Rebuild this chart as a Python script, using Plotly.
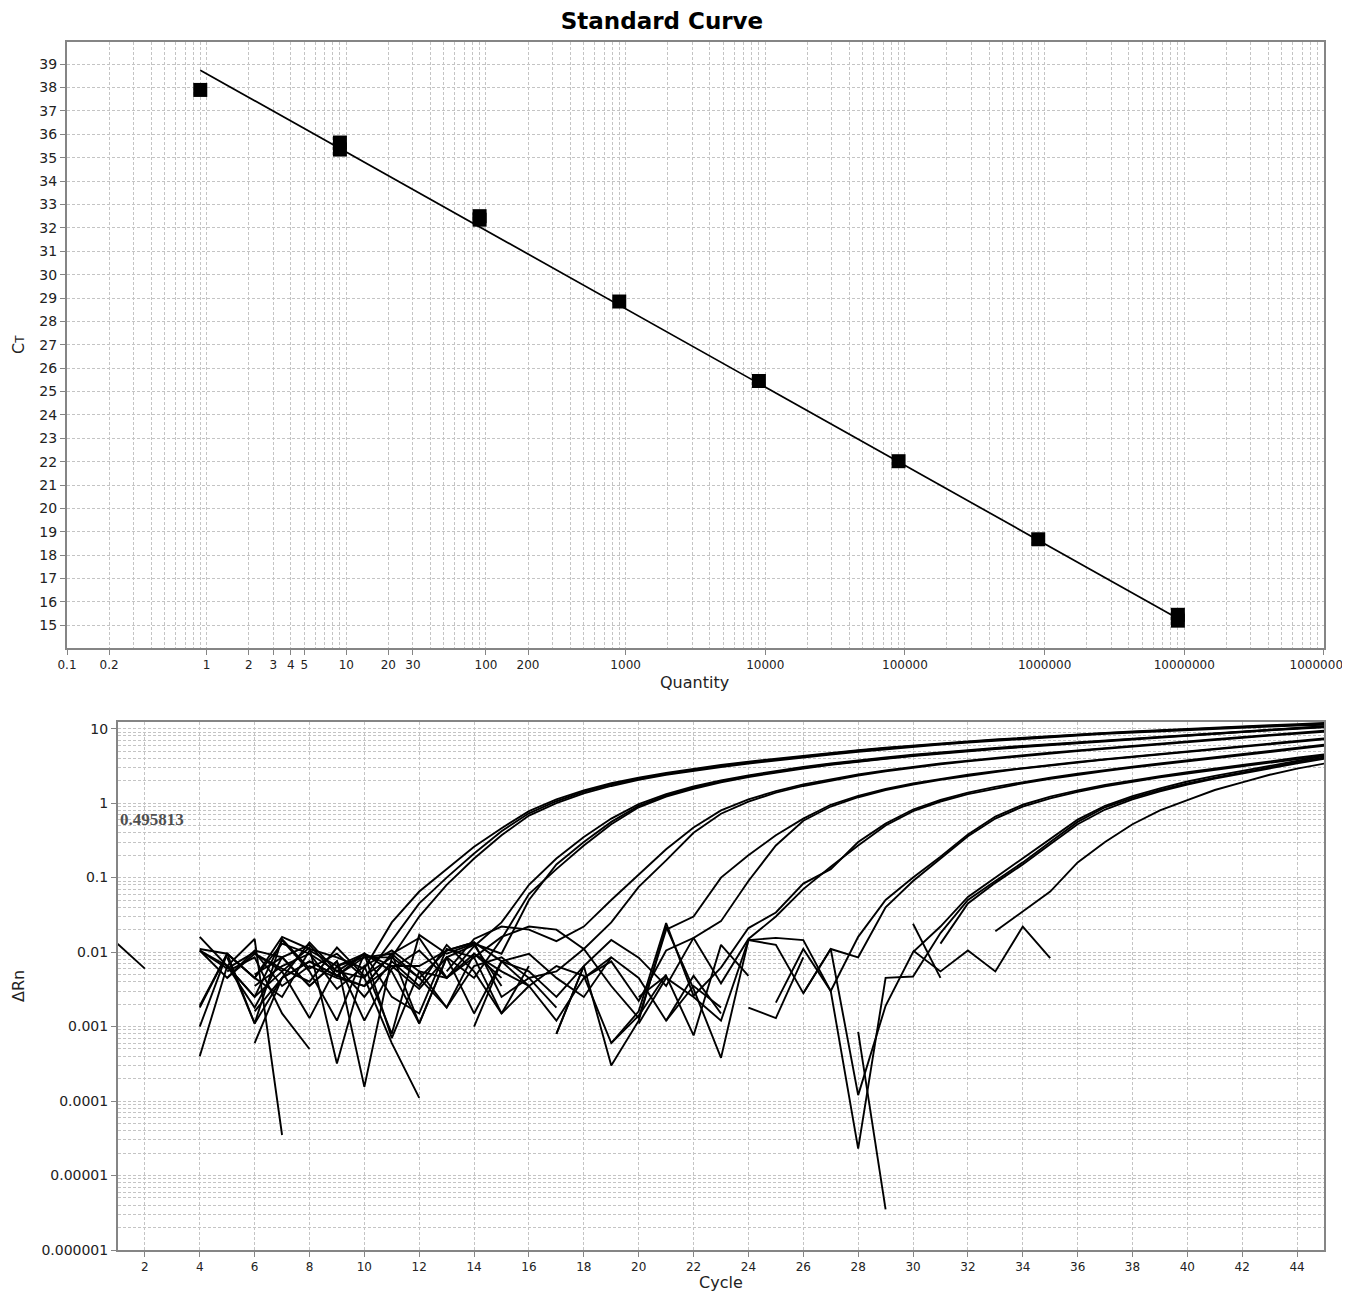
import math
import plotly.graph_objects as go

W, H = 1350, 1292
OFF = 8  # page body margin


def px(x):
    return (x - OFF) / W


def py(y):
    return 1 - (y - OFF) / H


# ---------------- Standard curve data ----------------
QUANTITY = [0.9, 9, 9, 90, 90, 900, 9000, 90000, 900000, 9000000, 9000000]
CT_VALUES = [37.9, 35.65, 35.35, 32.5, 32.35, 28.85, 25.45, 22.02, 18.68, 15.45, 15.2]
FIT_SLOPE = -3.35
FIT_INTERCEPT = 38.59

QTY_TICKS = [0.1, 0.2, 1, 2, 3, 4, 5, 10, 20, 30, 100, 200, 1000, 10000,
             100000, 1000000, 10000000, 100000000]
QTY_TICK_TEXT = ["0.1", "0.2", "1", "2", "3", "4", "5", "10", "20", "30", "100", "200",
                 "1000", "10000", "100000", "1000000", "10000000", "100000000"]

# ---------------- Amplification plot data ----------------
CYCLES = list(range(1, 46))
THRESHOLD = 0.495813
N = None

A1 = [N, N, N, 0.011, 0.0095, 0.0045, 0.016, 0.011, 0.0085,
      0.006, 0.025, 0.065, 0.13, 0.26, 0.46, 0.78, 1.12, 1.48,
      1.85, 2.2, 2.55, 2.9, 3.25, 3.6, 3.95, 4.35, 4.75,
      5.15, 5.55, 5.95, 6.35, 6.75, 7.15, 7.55, 7.95, 8.35,
      8.75, 9.15, 9.55, 9.95, 10.35, 10.75, 11.1, 11.5, 11.9]
A2 = [N, N, N, 0.0018, 0.0095, 0.0011, 0.015, 0.006, 0.0095,
      0.0045, 0.014, 0.045, 0.1, 0.21, 0.42, 0.73, 1.06, 1.42,
      1.78, 2.12, 2.46, 2.8, 3.15, 3.5, 3.85, 4.25, 4.65,
      5.05, 5.45, 5.85, 6.25, 6.65, 7.05, 7.45, 7.85, 8.25,
      8.65, 9.05, 9.45, 9.85, 10.2, 10.55, 10.9, 11.2, 11.6]
A3 = [N, N, N, 0.0004, 0.0065, 0.015, 3.5e-5, N, 0.0065,
      0.0085, 0.0085, 0.03, 0.08, 0.18, 0.37, 0.68, 1.0, 1.35,
      1.7, 2.05, 2.4, 2.72, 3.05, 3.4, 3.75, 4.1, 4.5,
      4.9, 5.3, 5.7, 6.1, 6.5, 6.9, 7.3, 7.7, 8.1,
      8.5, 8.85, 9.2, 9.6, 9.95, 10.3, 10.65, 11.0, 11.3]
B1 = [N, N, N, 0.016, 0.0065, 0.0025, 0.0055, 0.0013, 0.0065,
      0.0095, 0.0007, 0.0055, 0.0045, 0.012, 0.025, 0.08, 0.18, 0.35,
      0.62, 0.97, 1.32, 1.68, 2.02, 2.36, 2.7, 3.05, 3.4,
      3.75, 4.1, 4.45, 4.8, 5.15, 5.5, 5.85, 6.2, 6.6,
      7.0, 7.4, 7.8, 8.2, 8.7, 9.2, 9.7, 10.2, 10.8]
B2 = [N, N, N, 0.001, 0.0095, 0.0045, 0.013, 0.0095, 0.0032,
      0.0065, 0.0008, 0.017, 0.0095, 0.013, 0.0095, 0.05, 0.15, 0.3,
      0.56, 0.92, 1.27, 1.62, 1.96, 2.3, 2.64, 2.98, 3.32,
      3.66, 4.0, 4.35, 4.7, 5.05, 5.4, 5.75, 6.1, 6.5,
      6.9, 7.3, 7.7, 8.1, 8.6, 9.1, 9.6, 10.1, 10.6]
B3 = [N, N, N, N, N, 0.0006, 0.0045, 0.0075, 0.0048,
      0.0035, 0.0095, 0.0011, 0.0085, 0.0045, 0.015, 0.06, 0.13, 0.27,
      0.52, 0.88, 1.22, 1.56, 1.9, 2.24, 2.58, 2.92, 3.26,
      3.6, 3.94, 4.28, 4.62, 4.96, 5.3, 5.65, 6.0, 6.4,
      6.8, 7.2, 7.6, 8.0, 8.5, 9.0, 9.5, 10.0, 10.4]
C1 = [N, N, N, 0.0105, 0.0045, 0.0095, 0.006, 0.004, 0.0115,
      0.0048, 0.0085, N, 0.0055, 0.015, 0.022, 0.02, 0.014, 0.022,
      0.05, 0.11, 0.24, 0.47, 0.8, 1.12, 1.45, 1.78, 2.1,
      2.42, 2.75, 3.08, 3.4, 3.72, 4.05, 4.4, 4.75, 5.1,
      5.5, 5.9, 6.3, 6.75, 7.2, 7.7, 8.2, 8.8, 9.4]
C2 = [N, N, N, N, N, 0.0016, 0.0045, 0.0075, 0.0048,
      0.0095, 0.0025, 0.0015, 0.011, 0.0085, 0.016, 0.022, 0.02, 0.011,
      0.025, 0.075, 0.17, 0.4, 0.72, 1.05, 1.38, 1.7, 2.02,
      2.35, 2.68, 3.0, 3.32, 3.64, 3.96, 4.3, 4.65, 5.0,
      5.38, 5.78, 6.2, 6.62, 7.08, 7.55, 8.05, 8.55, 9.1]
D1 = [N, N, N, 0.0105, 0.006, 0.01, 0.0035, 0.0065, 0.0045,
      0.0035, 0.0095, 0.0045, 0.0018, 0.0065, 0.0085, 0.0045, 0.0055, 0.011,
      0.0035, 0.0013, 0.02, 0.03, 0.1, 0.2, 0.37, 0.62, 0.95,
      1.25, 1.55, 1.84, 2.12, 2.4, 2.68, 2.97, 3.27, 3.57,
      3.88, 4.2, 4.55, 4.92, 5.32, 5.75, 6.25, 6.8, 7.4]
D2 = [N, N, N, N, 0.0065, 0.0025, 0.0145, 0.0055, 0.0012,
      0.0095, 0.0065, 0.0032, 0.0085, 0.0125, 0.0035, N, 0.0008, 0.0065,
      0.0145, 0.0084, 0.0035, 0.0155, 0.026, 0.09, 0.27, 0.58, 0.9,
      1.2, 1.5, 1.78, 2.06, 2.34, 2.62, 2.92, 3.22, 3.52,
      3.84, 4.16, 4.5, 4.86, 5.25, 5.68, 6.15, 6.65, 7.2]
E1 = [N, N, N, N, 0.0085, 0.0011, 0.0045, 0.0135, 0.0055,
      0.0095, 0.0055, 0.0011, 0.0085, 0.0015, 0.0075, 0.0035, 0.0065, 0.0048,
      0.0006, 0.0016, 0.0245, 0.0026, 0.0062, 0.021, 0.034, 0.083, 0.13,
      0.3, 0.53, 0.82, 1.1, 1.38, 1.65, 1.92, 2.2, 2.48,
      2.78, 3.08, 3.4, 3.75, 4.12, 4.52, 4.98, 5.48, 6.1]
E2 = [N, N, N, N, N, 0.005, 0.0085, 0.0035, 0.0075,
      0.0012, 0.006, 0.0105, 0.0045, 0.0095, 0.0055, 0.0035, 0.0012, 0.0045,
      0.0075, 0.0022, 0.0105, 0.0155, 0.0038, 0.015, 0.03, 0.07, 0.14,
      0.27, 0.5, 0.78, 1.05, 1.32, 1.58, 1.85, 2.12, 2.4,
      2.7, 3.0, 3.32, 3.66, 4.02, 4.42, 4.86, 5.34, 5.9]
F1 = [N, N, N, 0.0019, 0.0095, 0.0045, 0.0025, 0.0105, 0.0065,
      0.0025, 0.0075, 0.0035, 0.0125, 0.0055, 0.0015, 0.0035, N, 0.0045,
      0.0085, N, 0.0012, 0.0048, 0.0015, N, 0.0021, 0.011, 0.003,
      0.016, 0.05, 0.1, 0.19, 0.38, 0.66, 0.95, 1.22, 1.48,
      1.75, 2.02, 2.3, 2.6, 2.92, 3.26, 3.64, 4.06, 4.5]
F2 = [N, N, N, N, 0.0055, 0.0085, 0.0015, 0.0005, N,
      0.0035, 0.0065, 0.0065, 0.0105, 0.0135, 0.0025, 0.0045, 0.0018, N,
      N, 0.0011, 0.0045, 0.0025, 0.0012, 0.0145, 0.0125, 0.0028, 0.011,
      0.0085, 0.04, 0.09, 0.18, 0.36, 0.62, 0.9, 1.16, 1.42,
      1.68, 1.95, 2.22, 2.5, 2.8, 3.12, 3.48, 3.88, 4.35]
G1 = [N, N, N, N, N, 0.0095, 0.0055, 0.0115, 0.00032,
      0.0065, 0.0105, 0.0055, 0.0018, 0.0095, 0.0045, N, 0.0008, 0.0065,
      0.0003, 0.0012, 0.022, 0.0032, 0.00038, 0.0145, 0.0155, 0.0145, 0.003,
      2.3e-5, 0.0045, 0.0047, 0.018, 0.05, 0.09, 0.16, 0.3, 0.56,
      0.88, 1.18, 1.5, 1.84, 2.2, 2.6, 3.05, 3.55, 4.1]
G2 = [N, N, N, N, 0.0045, 0.0105, 0.0085, 0.0035, 0.0075,
      0.000155, 0.0085, 0.0045, 0.0105, 0.0135, 0.0075, 0.0055, 0.0025, 0.0065,
      N, 0.0025, 0.0048, 0.00076, 0.0125, 0.0048, N, 0.0028, 0.011,
      0.00012, 0.0019, 0.01, 0.022, 0.055, 0.1, 0.18, 0.33, 0.6,
      0.92, 1.24, 1.58, 1.95, 2.32, 2.72, 3.18, 3.68, 4.3]
G3 = [N, N, N, N, N, 0.0035, 0.0065, 0.0095, 0.0055,
      0.0045, 0.0006, 0.00011, N, 0.001, 0.0075, 0.0095, 0.0045, 0.0025,
      0.0085, 0.0045, 0.0012, 0.0035, 0.0018, N, N, N, N,
      0.00085, 3.5e-6, N, 0.013, 0.045, 0.085, 0.15, 0.28, 0.52,
      0.82, 1.12, 1.44, 1.78, 2.14, 2.52, 2.95, 3.42, 3.95]
H1 = [N, N, N, 0.0105, 0.0065, 0.0018, 0.0085, 0.0125, 0.0048,
      0.0085, 0.0095, 0.0155, 0.0045, 0.0085, 0.0015, 0.0065, N, N,
      0.0006, 0.0014, 0.005, N, N, 0.0018, 0.0013, 0.0085, N,
      N, N, N, N, N, 0.019, 0.035, 0.065, 0.16,
      0.3, 0.52, 0.8, 1.1, 1.5, 1.9, 2.4, 2.9, 3.4]
NTC1 = [0.013, 0.006, N, N, N, N, N, N, N,
        N, N, N, N, N, N, N, N, N,
        N, N, N, N, N, N, N, N, N,
        N, N, 0.0105, 0.0055, 0.0105, 0.0055, 0.022, 0.0083, N,
        N, N, N, N, N, N, N, N, N]
NTC2 = [N, N, N, N, N, N, N, N, N,
        N, N, N, N, N, N, N, N, N,
        N, N, N, N, N, N, N, N, N,
        N, N, 0.024, 0.0045, N, N, N, N, N,
        N, N, N, N, N, N, N, N, N]

CURVES = [A1, A2, A3, B1, B2, B3, C1, C2, D1, D2, E1, E2,
          F1, F2, G1, G2, G3, H1, NTC1, NTC2]

# ---------------- Figure ----------------
fig = go.Figure()

fit_x = [min(QUANTITY), max(QUANTITY)]
fit_y = [FIT_INTERCEPT + FIT_SLOPE * math.log10(q) for q in fit_x]
fig.add_trace(go.Scatter(x=fit_x, y=fit_y, mode="lines",
                         line=dict(color="black", width=1.7),
                         xaxis="x", yaxis="y", hoverinfo="skip"))
fig.add_trace(go.Scatter(x=QUANTITY, y=CT_VALUES, mode="markers",
                         marker=dict(symbol="square", size=14, color="black"),
                         xaxis="x", yaxis="y"))

for c in CURVES:
    fig.add_trace(go.Scatter(x=CYCLES, y=c, mode="lines", connectgaps=False,
                             line=dict(color="black", width=1.9),
                             xaxis="x2", yaxis="y2"))

grid_col = "#c4c4c4"
axis_col = "#858585"
tick_font = dict(family="DejaVu Sans", size=12, color="#222")
ytick_font = dict(family="DejaVu Sans", size=14, color="#222")

log_minor_qty = [m * 10 ** e for e in range(-1, 8) for m in range(1, 10)]
log_minor_drn = [m * 10 ** e for e in range(-6, 1) for m in range(1, 10)] + [10]

common = dict(showline=True, linecolor=axis_col, linewidth=2, mirror=True,
              ticks="outside", ticklen=5, tickcolor=axis_col,
              gridcolor=grid_col, griddash="3px,2px", gridwidth=1,
              zeroline=False, automargin=False)

fig.update_layout(
    width=W, height=H,
    margin=dict(l=0, r=0, t=0, b=0, autoexpand=False),
    paper_bgcolor="white", plot_bgcolor="white",
    showlegend=False,
    title=dict(text="<b>Standard Curve</b>", x=px(662), y=py(21),
               xanchor="center", yanchor="middle",
               font=dict(family="DejaVu Sans", size=23, color="black")),
    xaxis=dict(domain=[px(67), px(1324)], anchor="y", type="log",
               range=[-1, 8.0005], tickvals=QTY_TICKS, ticktext=QTY_TICK_TEXT,
               tickfont=tick_font, ticklabeloverflow="allow",
               minor=dict(tickvals=log_minor_qty, showgrid=True, gridcolor=grid_col,
                          griddash="3px,2px", ticks=""),
               **common),
    yaxis=dict(domain=[py(648), py(42)], anchor="x", range=[14.03, 39.95],
               tick0=0, dtick=1, tickfont=ytick_font, **common),
    xaxis2=dict(domain=[px(118), px(1324)], anchor="y2",
                range=[1.02, 44.98], tick0=0, dtick=2,
                tickfont=tick_font, **common),
    yaxis2=dict(domain=[py(1250), py(722)], anchor="x2", type="log",
                range=[-6, 1.089],
                tickvals=[1e-6, 1e-5, 1e-4, 1e-3, 1e-2, 1e-1, 1, 10],
                ticktext=["0.000001", "0.00001", "0.0001", "0.001", "0.01", "0.1", "1", "10"],
                tickfont=ytick_font,
                minor=dict(tickvals=log_minor_drn, showgrid=True, gridcolor=grid_col,
                           griddash="3px,2px", ticks=""),
                **common),
)

# Threshold line and label
fig.add_shape(type="line", xref="x2 domain", yref="y2",
              x0=0, x1=1, y0=math.log10(THRESHOLD), y1=math.log10(THRESHOLD),
              line=dict(color="black", width=4))
fig.add_annotation(xref="x2 domain", yref="y2", x=0, y=math.log10(THRESHOLD),
                   text="<b>0.495813</b>", showarrow=False,
                   xanchor="left", yanchor="bottom", yshift=-5,
                   font=dict(family="Liberation Serif", size=17, color="#505050"))


def label(x, y, text, size=16, angle=0):
    fig.add_annotation(xref="paper", yref="paper", x=px(x), y=py(y),
                       xanchor="center", yanchor="middle",
                       text=text, showarrow=False, textangle=angle,
                       font=dict(family="DejaVu Sans", size=size, color="#222"))


label(695, 682, "Quantity")
label(721, 1282, "Cycle")
label(18, 345, "C<span style='font-size:12px'>T</span>", angle=-90)
label(18, 986, "ΔRn", angle=-90)

fig.write_html("out.html")
